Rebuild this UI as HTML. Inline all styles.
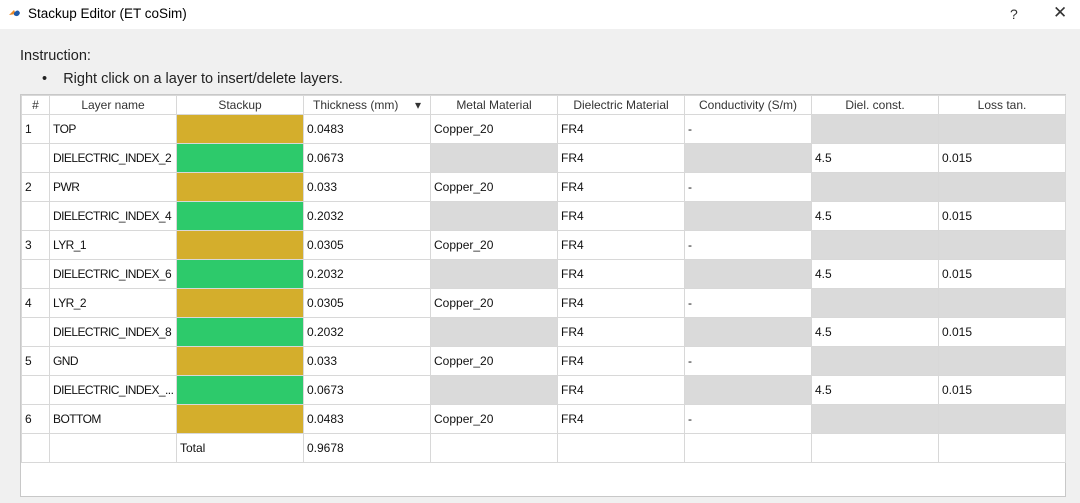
<!DOCTYPE html>
<html><head><style>
body{margin:0;width:1080px;height:503px;background:#f0f0f0;font-family:"Liberation Sans",sans-serif;position:relative;overflow:hidden}
.tb{position:absolute;left:0;top:0;width:1080px;height:29px;background:#fff}
.t{position:absolute;left:28px;top:6px;font-size:13.5px;color:#000}
.ic{position:absolute;left:9px;top:9px;width:12px;height:9px}
.q{position:absolute;left:1010px;top:6px;font-size:14px;color:#333}
.x{position:absolute;left:1053px;top:3px;font-size:17px;color:#333}
.ins{position:absolute;left:20px;top:48px;font-size:14.5px;color:#222}
.bul{position:absolute;left:42px;top:71px;font-size:14.5px;color:#222}
.wrap{position:absolute;left:20px;top:94px;width:1046px;height:403px;background:#fff;border:1px solid #c8c8c8;box-sizing:border-box}
table{position:absolute;left:0;top:0;width:1044px;border-collapse:collapse;table-layout:fixed;font-size:12px;color:#111}
td,th{border:1px solid #d8d8d8;padding:0 0 0 3px;white-space:nowrap;overflow:hidden;text-overflow:clip}
th{height:18px;font-weight:normal;background:#fff;color:#333;text-align:center;padding:0;font-size:12px}
td{height:28px}
tr td:nth-child(2){letter-spacing:-0.55px}
.g{background:#d4ae2c}.n{background:#2dca6b}.s{background:#dadada}
</style></head><body>
<div class="tb">
<svg class="ic" viewBox="0 0 12 9"><path d="M0 6 L5 1 L7 5Z" fill="#e8892a"/><path d="M5 4 Q9 -1 11 4 Q9 9 5 6Z" fill="#1f5aa8"/></svg>
<div class="t">Stackup Editor (ET coSim)</div>
<div class="q">?</div><div class="x">✕</div>
</div>
<div class="ins">Instruction:</div>
<div class="bul">•&nbsp;&nbsp;&nbsp;&nbsp;Right click on a layer to insert/delete layers.</div>
<div class="wrap">
<table>
<colgroup><col style="width:28px"><col style="width:127px"><col style="width:127px"><col style="width:127px"><col style="width:127px"><col style="width:127px"><col style="width:127px"><col style="width:127px"><col style="width:127px"></colgroup>
<tr><th>#</th><th>Layer name</th><th>Stackup</th><th>Thickness (mm) &nbsp;&nbsp;&nbsp;&nbsp;▾</th><th>Metal Material</th><th>Dielectric Material</th><th>Conductivity (S/m)</th><th>Diel. const.</th><th>Loss tan.</th></tr>
<tr><td>1</td><td>TOP</td><td class="g"></td><td>0.0483</td><td>Copper_20</td><td>FR4</td><td>-</td><td class="s"></td><td class="s"></td></tr>
<tr><td></td><td>DIELECTRIC_INDEX_2</td><td class="n"></td><td>0.0673</td><td class="s"></td><td>FR4</td><td class="s"></td><td>4.5</td><td>0.015</td></tr>
<tr><td>2</td><td>PWR</td><td class="g"></td><td>0.033</td><td>Copper_20</td><td>FR4</td><td>-</td><td class="s"></td><td class="s"></td></tr>
<tr><td></td><td>DIELECTRIC_INDEX_4</td><td class="n"></td><td>0.2032</td><td class="s"></td><td>FR4</td><td class="s"></td><td>4.5</td><td>0.015</td></tr>
<tr><td>3</td><td>LYR_1</td><td class="g"></td><td>0.0305</td><td>Copper_20</td><td>FR4</td><td>-</td><td class="s"></td><td class="s"></td></tr>
<tr><td></td><td>DIELECTRIC_INDEX_6</td><td class="n"></td><td>0.2032</td><td class="s"></td><td>FR4</td><td class="s"></td><td>4.5</td><td>0.015</td></tr>
<tr><td>4</td><td>LYR_2</td><td class="g"></td><td>0.0305</td><td>Copper_20</td><td>FR4</td><td>-</td><td class="s"></td><td class="s"></td></tr>
<tr><td></td><td>DIELECTRIC_INDEX_8</td><td class="n"></td><td>0.2032</td><td class="s"></td><td>FR4</td><td class="s"></td><td>4.5</td><td>0.015</td></tr>
<tr><td>5</td><td>GND</td><td class="g"></td><td>0.033</td><td>Copper_20</td><td>FR4</td><td>-</td><td class="s"></td><td class="s"></td></tr>
<tr><td></td><td>DIELECTRIC_INDEX_...</td><td class="n"></td><td>0.0673</td><td class="s"></td><td>FR4</td><td class="s"></td><td>4.5</td><td>0.015</td></tr>
<tr><td>6</td><td>BOTTOM</td><td class="g"></td><td>0.0483</td><td>Copper_20</td><td>FR4</td><td>-</td><td class="s"></td><td class="s"></td></tr>
<tr><td></td><td></td><td>Total</td><td>0.9678</td><td></td><td></td><td></td><td></td><td></td></tr>
</table>
</div>
</body></html>
